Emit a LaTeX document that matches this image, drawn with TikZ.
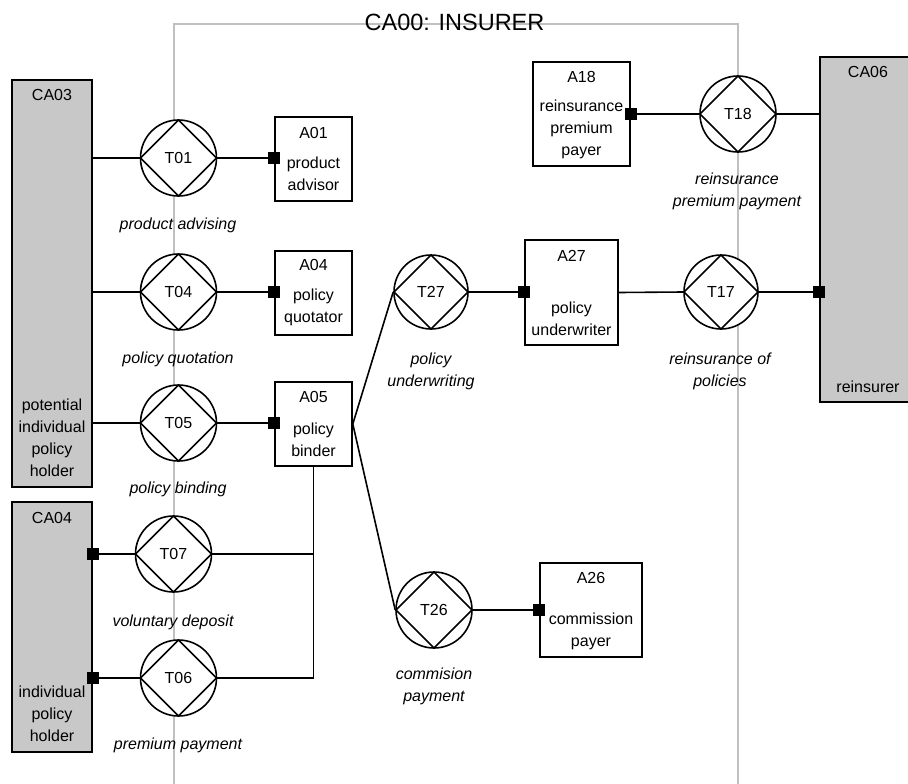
\documentclass[tikz,border=0pt]{standalone}
\usepackage{fontspec}
\setmainfont{Liberation Sans}
\definecolor{bgray}{RGB}{192,192,192}
\definecolor{cagray}{RGB}{200,200,200}
\begin{document}
\begin{tikzpicture}[x=1pt,y=-1pt,line width=1.6pt,
  base/.style={font=\fontsize{16}{22}\selectfont, inner sep=0pt, align=center},
  lab/.style={font=\fontsize{16}{22}\selectfont\itshape, inner sep=0pt, align=center},
  trans/.style={circle, draw, fill=white, minimum size=76pt, inner sep=0pt,
    font=\fontsize{16}{22}\selectfont,
    path picture={\draw[line width=1.6pt] (path picture bounding box.north) -- (path picture bounding box.east) -- (path picture bounding box.south) -- (path picture bounding box.west) -- cycle;}},
  actorbox/.style={draw, fill=white, inner sep=0pt},
  cabox/.style={draw, fill=cagray, inner sep=0pt},
  exe/.style={fill=black, minimum size=12pt, inner sep=0pt},
  bound/.style={draw=bgray, line width=1.5pt}
]
\useasboundingbox (0,0) rectangle (908,784);
% boundary of CA00
\draw[bound] (174,784) -- (174,24) -- (738,24) -- (738,784);
\node[font=\fontsize{23.5}{26}\selectfont, inner sep=0pt] (title) at (454.5,22.5) {CA00: INSURER};

% composite actors
\node[cabox, minimum width=80pt, minimum height=407pt] (CA03) at (52,283.5) {};
\node[cabox, minimum width=80pt, minimum height=250pt] (CA04) at (52,627) {};
\node[cabox, minimum width=100pt, minimum height=345pt] (CA06) at (870,229.5) {};
\node[base] (CA03id) at (52,95) {CA03};
\node[base] (CA03nm) at (52,438) {potential\\individual\\policy\\holder};
\node[base] (CA04id) at (52,517.5) {CA04};
\node[base] (CA04nm) at (52,714) {individual\\policy\\holder};
\node[base] (CA06id) at (868,71.5) {CA06};
\node[base] (CA06nm) at (868,387) {reinsurer};

% actor roles
\node[actorbox, minimum width=77pt, minimum height=84pt] (A01) at (313.5,159) {};
\node[base] (A01id) at (313.5,133) {A01};
\node[base] (A01nm) at (313.5,174) {product\\advisor};
\node[actorbox, minimum width=77pt, minimum height=84pt] (A04) at (313.5,293) {};
\node[base] (A04id) at (313.5,265) {A04};
\node[base] (A04nm) at (313.5,307) {policy\\quotator};
\node[actorbox, minimum width=77pt, minimum height=84pt] (A05) at (313.5,424) {};
\node[base] (A05id) at (313.5,397) {A05};
\node[base] (A05nm) at (313.5,439.5) {policy\\binder};
\node[actorbox, minimum width=97pt, minimum height=104pt] (A18) at (581.5,114) {};
\node[base] (A18id) at (581.5,77) {A18};
\node[base] (A18nm) at (581.5,129) {reinsurance\\premium\\payer};
\node[actorbox, minimum width=93pt, minimum height=105pt] (A27) at (571.5,292.5) {};
\node[base] (A27id) at (571.5,256) {A27};
\node[base] (A27nm) at (571.5,319) {policy\\underwriter};
\node[actorbox, minimum width=102pt, minimum height=94pt] (A26) at (591,610) {};
\node[base] (A26id) at (591,578) {A26};
\node[base] (A26nm) at (591,631) {commission\\payer};

% transactions
\node[trans] (T01) at (178.5,158) {T01};
\node[trans] (T04) at (178.5,292) {T04};
\node[trans] (T05) at (178.5,423) {T05};
\node[trans] (T07) at (173.5,554) {T07};
\node[trans] (T06) at (178.5,678) {T06};
\node[trans, minimum size=74pt] (T27) at (431,292) {T27};
\node[trans, minimum size=74pt] (T17) at (721,292) {T17};
\node[trans] (T18) at (738,114) {T18};
\node[trans] (T26) at (434,610) {T26};

% transaction labels
\node[lab] (L01) at (178,225) {product advising};
\node[lab] (L04) at (178,359) {policy quotation};
\node[lab] (L05) at (178,489) {policy binding};
\node[lab] (L07) at (173,622) {voluntary deposit};
\node[lab] (L06) at (178,745) {premium payment};
\node[lab] (L27) at (431,371) {policy\\underwriting};
\node[lab] (L17) at (720,371) {reinsurance of\\policies};
\node[lab] (L18) at (737,191) {reinsurance\\premium payment};
\node[lab] (L26) at (434,686) {commision\\payment};

% executor markers (positions)
\coordinate (c01) at (A01.west |- T01);
\coordinate (c04) at (A04.west |- T04);
\coordinate (c05) at (A05.west |- T05);
\coordinate (c07) at (CA04.east |- T07);
\coordinate (c06) at (CA04.east |- T06);
\coordinate (c27) at (A27.west |- T27);
\coordinate (c17) at (CA06.west |- T17);
\coordinate (c18) at (A18.east |- T18);
\coordinate (c26) at (A26.west |- T26);

% connectors
\draw (CA03.east |- T01.west) -- (T01.west);
\draw (T01.east) -- (c01);
\draw (CA03.east |- T04.west) -- (T04.west);
\draw (T04.east) -- (c04);
\draw (CA03.east |- T05.west) -- (T05.west);
\draw (T05.east) -- (c05);
\draw (c07) -- (T07.west);
\draw (c06) -- (T06.west);
\draw (T07.east) -- (A05.south |- T07.east);
\draw (A05.south) |- (T06.east);
\draw (A05.east) -- (T27.west);
\draw (A05.east) -- (T26.west);
\draw (T27.east) -- (c27);
\draw (A27.east) -- (T17.west);
\draw (T17.east) -- (c17);
\draw (c18) -- (T18.west);
\draw (T18.east) -- (CA06.west |- T18.east);
\draw (T26.east) -- (c26);

% executor squares
\node[exe] (s01) at (c01) {};
\node[exe] (s04) at (c04) {};
\node[exe] (s05) at (c05) {};
\node[exe] (s07) at (c07) {};
\node[exe] (s06) at (c06) {};
\node[exe] (s27) at (c27) {};
\node[exe] (s17) at (c17) {};
\node[exe] (s18) at (c18) {};
\node[exe] (s26) at (c26) {};
\end{tikzpicture}
\end{document}
